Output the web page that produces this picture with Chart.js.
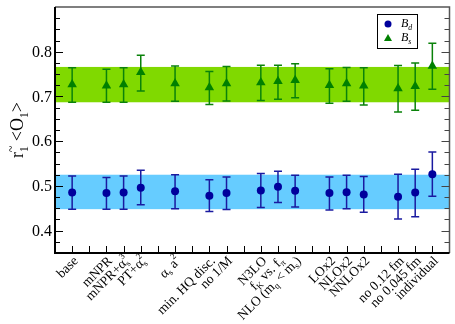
<!DOCTYPE html>
<html>
<head>
<meta charset="utf-8">
<script src="https://cdn.jsdelivr.net/npm/chart.js@4.4.0/dist/chart.umd.min.js"></script>
<style>
  html, body { margin: 0; padding: 0; background: #fff; }
  #wrap { width: 455px; height: 324px; position: relative; }
</style>
</head>
<body>
<div id="wrap"><canvas id="c"></canvas></div>
<script>
// x positions of each analysis variant (gaps separate the groups)
const positions = [0, 2, 3, 4, 6, 8, 9, 11, 12, 13, 15, 16, 17, 19, 20, 21];
const categories = ['base', 'mNPR', 'mNPR+α_s^3', 'PT+α_s^2', 'α_s a^2', 'min. HQ disc.', 'no 1/M',
  'N3LO', 'f_K vs. f_π', 'NLO (m_q < m_s)', 'LOx2', 'NLOx2', 'NNLOx2',
  'no 0.12 fm', 'no 0.045 fm', 'individual'];

// B_d
const bdValue = [0.485, 0.484, 0.485, 0.496, 0.488, 0.478, 0.484, 0.490, 0.498, 0.489, 0.484, 0.486, 0.481, 0.476, 0.485, 0.526];
const bdHigh  = [0.522, 0.519, 0.522, 0.535, 0.525, 0.514, 0.520, 0.528, 0.533, 0.524, 0.520, 0.524, 0.521, 0.526, 0.537, 0.576];
const bdLow   = [0.448, 0.448, 0.448, 0.458, 0.449, 0.443, 0.447, 0.452, 0.463, 0.453, 0.446, 0.449, 0.441, 0.426, 0.431, 0.477];
const bdBand  = [0.448, 0.525];

// B_s
const bsValue = [0.727, 0.724, 0.727, 0.754, 0.729, 0.720, 0.729, 0.731, 0.734, 0.736, 0.725, 0.729, 0.724, 0.718, 0.723, 0.768];
const bsHigh  = [0.764, 0.761, 0.764, 0.792, 0.768, 0.756, 0.767, 0.770, 0.770, 0.773, 0.762, 0.765, 0.764, 0.769, 0.775, 0.819];
const bsLow   = [0.687, 0.687, 0.687, 0.712, 0.689, 0.682, 0.690, 0.691, 0.694, 0.697, 0.685, 0.689, 0.681, 0.665, 0.669, 0.716];
const bsBand  = [0.687, 0.766];

const yTickLabels = ['0.4', '0.5', '0.6', '0.7', '0.8'];
const yMinorStep = 0.025;
const xRange = [-1, 22];
const yRange = [0.35, 0.9];

const SERIF = '"Liberation Serif", "DejaVu Serif", serif';
const NAVY = '#00009c';
const GREEN = '#008000';

// tiny markup: _x / ^x (or _{..} / ^{..}) for sub- and superscripts
function parseRich(s) {
  const segs = [];
  let buf = '', i = 0;
  while (i < s.length) {
    const c = s[i];
    if (c === '_' || c === '^') {
      if (buf) { segs.push({ t: buf, k: 'n' }); buf = ''; }
      let v;
      if (s[i + 1] === '{') { const j = s.indexOf('}', i); v = s.slice(i + 2, j); i = j + 1; }
      else { v = s[i + 1]; i += 2; }
      segs.push({ t: v, k: c === '_' ? 'sub' : 'sup' });
    } else { buf += c; i++; }
  }
  if (buf) segs.push({ t: buf, k: 'n' });
  return segs;
}

function layoutRich(ctx, str, size, style) {
  const items = [];
  let x = 0, prev = null;
  for (const s of parseRich(str)) {
    const small = s.k !== 'n';
    const fs = small ? size * 0.65 : size;
    ctx.font = `${style} ${fs}px ${SERIF}`;
    const w = ctx.measureText(s.t).width;
    let dx = x;
    const stacked = small && prev && prev.k !== s.k;
    if (stacked) dx = prev.x;
    const dy = s.k === 'sub' ? size * 0.28 : s.k === 'sup' ? -size * 0.42 : 0;
    items.push({ t: s.t, font: ctx.font, dx, dy });
    if (stacked) { x = Math.max(x, dx + w); prev = null; }
    else { x = dx + w; prev = small ? { k: s.k, x: dx } : null; }
  }
  return { items, width: x };
}

function drawRich(ctx, str, size, style, align) {
  const lay = layoutRich(ctx, str, size, style);
  const off = align === 'right' ? -lay.width : align === 'center' ? -lay.width / 2 : 0;
  for (const it of lay.items) {
    ctx.font = it.font;
    ctx.fillText(it.t, off + it.dx, it.dy);
  }
}

const decor = {
  id: 'decor',
  beforeDatasetsDraw(chart) {
    const { ctx, chartArea: a, scales: { x, y } } = chart;
    ctx.save();
    // uncertainty bands
    ctx.fillStyle = '#66ccff';
    ctx.fillRect(a.left, y.getPixelForValue(bdBand[1]), a.width, y.getPixelForValue(bdBand[0]) - y.getPixelForValue(bdBand[1]));
    ctx.fillStyle = '#80d900';
    ctx.fillRect(a.left, y.getPixelForValue(bsBand[1]), a.width, y.getPixelForValue(bsBand[0]) - y.getPixelForValue(bsBand[1]));

    // error bars
    const bars = (lo, hi, color) => {
      ctx.strokeStyle = color;
      ctx.lineWidth = 1.5;
      positions.forEach((p, i) => {
        const px = x.getPixelForValue(p);
        const y0 = y.getPixelForValue(lo[i]), y1 = y.getPixelForValue(hi[i]);
        ctx.beginPath();
        ctx.moveTo(px, y0); ctx.lineTo(px, y1);
        ctx.moveTo(px - 4, y0); ctx.lineTo(px + 4, y0);
        ctx.moveTo(px - 4, y1); ctx.lineTo(px + 4, y1);
        ctx.stroke();
      });
    };
    bars(bsLow, bsHigh, '#0a820a');
    bars(bdLow, bdHigh, '#1a1aa0');
    ctx.restore();
  },
  afterDraw(chart) {
    const { ctx, chartArea: a, scales: { x, y } } = chart;
    ctx.save();

    // frame
    ctx.strokeStyle = '#555';
    ctx.lineWidth = 1.5;
    ctx.beginPath();
    ctx.moveTo(a.left, a.top); ctx.lineTo(a.right, a.top); ctx.lineTo(a.right, a.bottom);
    ctx.stroke();
    ctx.strokeStyle = '#000';
    ctx.lineWidth = 2;
    ctx.beginPath();
    ctx.moveTo(a.left, a.top); ctx.lineTo(a.left, a.bottom); ctx.lineTo(a.right, a.bottom);
    ctx.stroke();

    // y ticks (inward, both sides)
    ctx.lineWidth = 1;
    const nMinor = Math.round((yRange[1] - yRange[0]) / yMinorStep);
    for (let k = 1; k < nMinor; k++) {
      const v = yRange[0] + k * yMinorStep;
      const major = Math.abs(v * 10 - Math.round(v * 10)) < 1e-6;
      const py = Math.round(y.getPixelForValue(v)) + 0.5;
      const len = major ? 8 : 5;
      ctx.strokeStyle = '#000';
      ctx.beginPath(); ctx.moveTo(a.left, py); ctx.lineTo(a.left + len, py); ctx.stroke();
      ctx.strokeStyle = '#444';
      ctx.beginPath(); ctx.moveTo(a.right, py); ctx.lineTo(a.right - len, py); ctx.stroke();
    }

    // x ticks
    ctx.strokeStyle = '#000';
    for (let v = 0; v < xRange[1]; v++) {
      const px = Math.round(x.getPixelForValue(v)) + 0.5;
      ctx.beginPath(); ctx.moveTo(px, a.bottom); ctx.lineTo(px, a.bottom - 7); ctx.stroke();
    }

    // y tick labels
    ctx.fillStyle = '#000';
    ctx.font = `16px ${SERIF}`;
    ctx.textAlign = 'right';
    ctx.textBaseline = 'middle';
    yTickLabels.forEach(t => {
      ctx.fillText(t, a.left - 3, y.getPixelForValue(parseFloat(t)) + 1);
    });

    // x category labels, rotated
    ctx.textAlign = 'left';
    categories.forEach((c, i) => {
      const px = x.getPixelForValue(positions[i]);
      ctx.save();
      ctx.translate(px + 4, a.bottom + 6);
      ctx.rotate(-Math.PI / 4);
      drawRich(ctx, c, 13.5, 'normal', 'right');
      ctx.restore();
    });

    // y title
    ctx.save();
    ctx.translate(23, 130);
    ctx.rotate(-Math.PI / 2);
    ctx.textBaseline = 'alphabetic';
    drawRich(ctx, 'r_1^~ <O_1>', 18, 'normal', 'center');
    ctx.restore();

    // legend
    const lx = 377, ly = 14, lw = 40, lh = 34;
    ctx.fillStyle = '#fff';
    ctx.fillRect(lx, ly, lw, lh);
    ctx.strokeStyle = '#000';
    ctx.lineWidth = 1;
    ctx.strokeRect(lx + 0.5, ly + 0.5, lw, lh);
    ctx.fillStyle = NAVY;
    ctx.beginPath(); ctx.arc(lx + 11, ly + 10, 3.5, 0, Math.PI * 2); ctx.fill();
    ctx.fillStyle = GREEN;
    ctx.beginPath();
    ctx.moveTo(lx + 11, ly + 20); ctx.lineTo(lx + 15, ly + 27); ctx.lineTo(lx + 7, ly + 27);
    ctx.closePath(); ctx.fill();
    ctx.fillStyle = '#000';
    ctx.textBaseline = 'alphabetic';
    ctx.save(); ctx.translate(lx + 24, ly + 13); drawRich(ctx, 'B_d', 12, 'italic', 'left'); ctx.restore();
    ctx.save(); ctx.translate(lx + 24, ly + 27); drawRich(ctx, 'B_s', 12, 'italic', 'left'); ctx.restore();

    ctx.restore();
  }
};

const pts = vals => positions.map((p, i) => ({ x: p, y: vals[i] }));

new Chart(document.getElementById('c'), {
  type: 'scatter',
  data: {
    datasets: [
      { label: 'B_s', data: pts(bsValue), pointStyle: 'triangle', pointRadius: 5.5,
        backgroundColor: GREEN, borderColor: GREEN, borderWidth: 0 },
      { label: 'B_d', data: pts(bdValue), pointStyle: 'circle', pointRadius: 4,
        backgroundColor: NAVY, borderColor: NAVY, borderWidth: 0 }
    ]
  },
  options: {
    responsive: true,
    maintainAspectRatio: false,
    animation: false,
    layout: { padding: { left: 55, right: 2, top: 7, bottom: 71 } },
    plugins: { legend: { display: false }, tooltip: { enabled: false } },
    scales: {
      x: { type: 'linear', min: xRange[0], max: xRange[1], display: false },
      y: { type: 'linear', min: yRange[0], max: yRange[1], display: false }
    }
  },
  plugins: [decor]
});
</script>
</body>
</html>
